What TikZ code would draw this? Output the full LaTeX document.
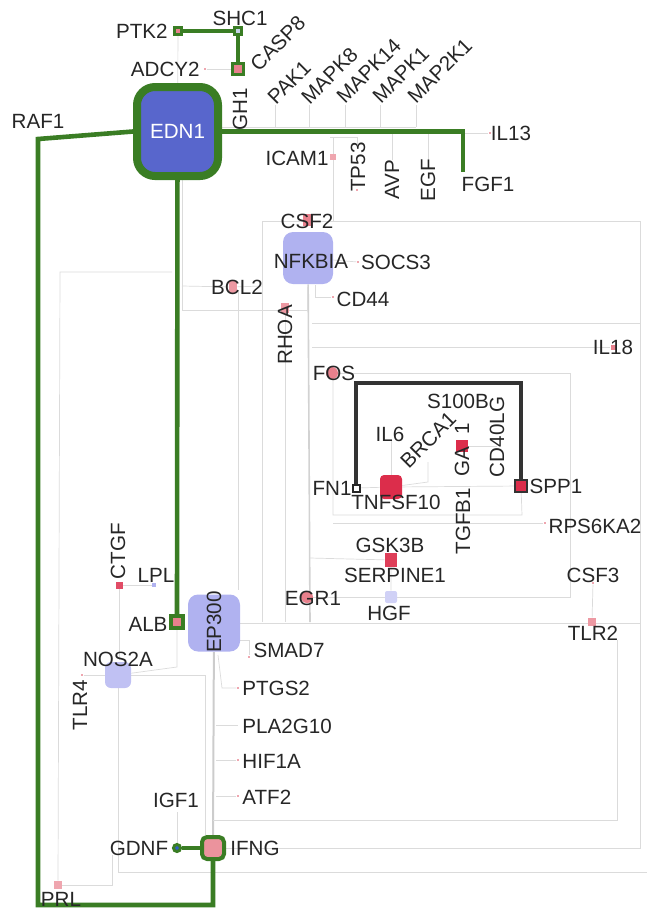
\documentclass[tikz,border=0pt]{standalone}
\usepackage{fontspec}
\setmainfont{Liberation Sans}
\usetikzlibrary{backgrounds}
\definecolor{edgegreen}{RGB}{58,125,36}
\definecolor{hubblue}{RGB}{88,102,204}
\definecolor{lav}{RGB}{176,178,240}
\definecolor{gpink}{RGB}{232,128,140}
\definecolor{gred}{RGB}{220,45,75}
\definecolor{gdnfblue}{RGB}{45,95,200}
\definecolor{shcfill}{RGB}{200,212,232}
\tikzset{
  lbl/.style={inner sep=0pt, text=black!85, font=\fontsize{10.3}{11}\selectfont},
  gene/.style={fill=gpink, inner sep=0pt, minimum size=#1},
  gene/.default=4pt,
  pin/.style={fill=gpink!70, inner sep=0pt, minimum size=1.3pt},
  hub/.style={fill=lav, inner sep=0pt, rounded corners=5pt},
  ring/.style={draw=edgegreen, line width=1.5pt},
  grn/.style={draw=edgegreen, line width=2.3pt},
  blk/.style={draw=black!80, line width=2pt},
  faint/.style={color=gray!28, line width=0.35pt},
}
\begin{document}
\begin{tikzpicture}[x=0.5pt,y=-0.5pt]
\useasboundingbox (0,0) rectangle (647,912);
\node[draw=edgegreen, line width=4pt, fill=hubblue, rounded corners=9pt, inner sep=0pt,
      minimum width=40.5pt, minimum height=44.5pt, text=white,
      font=\fontsize{10.3}{11}\selectfont] (edn1) at (177.5,131.5) {EDN1};
\node[hub, minimum width=25pt, minimum height=26pt] (nfkbia) at (308,258) {};
\node[hub, minimum width=26pt, minimum height=28.5pt] (ep300) at (214,623) {};
\node[hub, fill=lav!80, rounded corners=3pt, minimum size=13pt] (nos2a) at (118,675) {};
\node[hub, fill=lav!60, rounded corners=1pt, minimum size=6pt] (hgf) at (391,597) {};
\node[gene=3.5pt, ring] (ptk2) at (178,31) {};
\node[gene=3.5pt, ring, fill=shcfill] (shc1) at (238,31) {};
\node[gene=5.5pt, ring] (casp8) at (238,69) {};
\node[gene=6pt, ring, line width=2pt] (alb) at (177,622) {};
\node[gene=11pt, ring, line width=2pt, fill=gpink!85!white, rounded corners=2.5pt] (ifng) at (213,848) {};
\node[gene=3.5pt, ring, circle, fill=gdnfblue] (gdnf) at (177,848) {};
\node[gene=3.5pt, fill=white, draw=black!85, line width=1pt] (fn1) at (356,488) {};
\node[gene=6pt, fill=gred, draw=black!80, line width=1.2pt] (spp1) at (521,486) {};
\node[gene, fill=gred, rounded corners=2pt, minimum width=11pt, minimum height=12pt] (tnfsf10) at (391,487) {};
\node[gene=6pt, fill=gred] (gata) at (462,446) {};
\node[gene=6pt, fill=gred!80!gpink, minimum height=7pt] (serpine1) at (391,560) {};
\node[gene=6pt, circle] (fos) at (332,373) {};
\node[gene=6pt, circle] (egr1) at (307,597) {};
\node[gene=5pt, minimum height=6pt] (csf2) at (308,220) {};
\node[gene=4pt, fill=gpink!80, minimum height=6pt] (bcl2) at (233,287) {};
\node[gene=4pt, fill=gpink!80, minimum height=5pt] (rhoa) at (285,308) {};
\node[gene=3pt, fill=gpink!70] (icam1) at (333,157) {};
\node[gene=3.5pt, fill=gred!85] (ctgf) at (119,585) {};
\node[gene=2pt, fill=lav] (lpl) at (154,585) {};
\node[gene=4pt, fill=gpink!80] (tlr2) at (592,622) {};
\node[gene=4pt, fill=gpink!70] (prl) at (58,885) {};
\node[gene=2.5pt] (il18) at (613,347) {};
\foreach \n/\p in {socs3/{358,262}, cd44/{333,297}, smad7/{249,657}, ptgs2/{238,688},
  hif1a/{238,760}, atf2/{238,796}, tlr4/{82,675}, rps6ka2/{545,523}, tp53/{357,190},
  csf3/{593,583}, adcy2/{205,69}, il13/{490,133}}
  \node[pin] (\n) at (\p) {};
\begin{scope}[on background layer]
\begin{scope}[faint]
\draw (adcy2) -- (casp8);
\draw (ptk2) -- (edn1);
\draw (222,127) -- (416,127);
\foreach \x in {275,309,345,380,416} \draw (\x,105) -- (\x,127);
\draw (333,137) -- (icam1) -- (333,221);
\draw (330,137) -- (357,137) -- (357,145);
\draw (392,133) -- (392,160);
\draw (428,133) -- (428,160);
\draw (463,133) -- (il13);
\draw (262,622) -- (262,221) -- (640,221) -- (640,848) -- (ifng);
\draw (nfkbia) -- (socs3);
\draw[line width=0.8pt, gray!35] (nfkbia) -- (310,622);
\draw (315,285) -- (315,297) -- (cd44);
\draw (312,323) -- (640,323);
\draw (312,347) -- (il18);
\draw (fos) -- (570,373) -- (570,597) -- (egr1);
\draw (182,180) -- (182,310) -- (307,310) -- (307,287);
\draw (182,286) -- (bcl2) -- (262,286);
\draw (238,290) -- (238,590);
\draw (rhoa) -- (285,622);
\draw (ep300) -- (640,623);
\draw (333,373) -- (333,515) -- (522,515) -- (spp1);
\draw (fn1) -- (tnfsf10) -- (spp1);
\draw (391,440) -- (tnfsf10);
\draw (tnfsf10) -- (428,482) -- (428,462);
\draw (gata) -- (497,446);
\draw (333,523) -- (rps6ka2);
\draw (310,558) -- (serpine1) -- (hgf);
\draw (172,272) -- (60,272) -- (prl);
\draw (prl) -- (112,885) -- (112,855);
\draw (nos2a) -- (118,872) -- (647,872);
\draw (tlr4) -- (nos2a);
\draw (ctgf) -- (lpl);
\draw (ctgf) -- (119,660);
\draw (alb) -- (177,667) -- (nos2a);
\draw (nos2a) -- (205,675) -- (205,835);
\draw[line width=1pt, gray!40] (ep300) -- (ifng);
\draw (218,655) -- (222,688) -- (ptgs2);
\draw (216,725) -- (238,725);
\draw (216,760) -- (hif1a);
\draw (216,796) -- (atf2);
\draw (213,820) -- (617,820) -- (617,640);
\draw (177,812) -- (gdnf);
\draw (240,640) -- (249,640) -- (smad7);
\draw (csf3) -- (tlr2);
\end{scope}
\end{scope}
\draw[grn] (ptk2) -- (shc1) -- (casp8);
\draw[grn] (edn1.east) -- (463,131.5) -- (463,172);
\draw[grn] (edn1.west) -- (38,139) -- (38,905) -| (ifng);
\draw[grn] (edn1) -- (alb);
\draw[grn] (gdnf) -- (ifng);
\draw[blk] (fn1) -- (fn1 |- 0,383) -| (spp1);
\node[lbl, anchor=east] (ptk2l) at (168,31) {PTK2};
\node[lbl] (shc1l) at (240,18) {SHC1};
\node[lbl, anchor=east] (adcy2l) at (200,69) {ADCY2};
\node[lbl, rotate=45, anchor=south west] (casp8l) at (259,73) {CASP8};
\node[lbl, rotate=90] (gh1l) at (240,109) {GH1};
\node[lbl, rotate=45, anchor=south west] (pak1l) at (276,106) {PAK1};
\node[lbl, rotate=45, anchor=south west] (mapk8l) at (310,106) {MAPK8};
\node[lbl, rotate=45, anchor=south west] (mapk14l) at (345,105) {MAPK14};
\node[lbl, rotate=45, anchor=south west] (mapk1l) at (381,105) {MAPK1};
\node[lbl, rotate=45, anchor=south west] (map2k1l) at (416,105) {MAP2K1};
\node[lbl] (raf1l) at (38,121) {RAF1};
\node[lbl] (il13l) at (511,133) {IL13};
\node[lbl] (fgf1l) at (488,184) {FGF1};
\node[lbl] (icam1l) at (297,158) {ICAM1};
\node[lbl, rotate=90] (tp53l) at (358,167) {TP53};
\node[lbl, rotate=90] (avpl) at (392,180) {AVP};
\node[lbl, rotate=90] (egfl) at (428,180) {EGF};
\node[lbl] (csf2l) at (307,221) {CSF2};
\node[lbl] (nfkbial) at (311,261) {NFKBIA};
\node[lbl] (socs3l) at (396,262) {SOCS3};
\node[lbl] (cd44l) at (363,299) {CD44};
\node[lbl] (bcl2l) at (237,287) {BCL2};
\node[lbl, rotate=90] (rhoal) at (285,335) {RHOA};
\node[lbl] (il18l) at (613,347) {IL18};
\node[lbl] (fosl) at (334,373) {FOS};
\node[lbl] (s100bl) at (458,401) {S100B};
\node[lbl] (il6l) at (390,434) {IL6};
\node[lbl, rotate=45, anchor=south west] (brca1l) at (409,470) {BRCA1};
\node[lbl, rotate=90] (gatal) at (462,450) {GA\phantom{T}1};
\node[lbl, rotate=90] (cd40lgl) at (497,437) {CD40LG};
\node[lbl, rotate=90] (tgfb1l) at (463,521) {TGFB1};
\node[lbl] (fn1l) at (332,488) {FN1};
\node[lbl] (tnfsf10l) at (396,502) {TNFSF10};
\node[lbl] (spp1l) at (556,486) {SPP1};
\node[lbl] (rps6ka2l) at (595,526) {RPS6KA2};
\node[lbl] (gsk3bl) at (390,545) {GSK3B};
\node[lbl] (serpine1l) at (395,575) {SERPINE1};
\node[lbl] (csf3l) at (593,575) {CSF3};
\node[lbl] (egr1l) at (313,598) {EGR1};
\node[lbl] (hgfl) at (389,613) {HGF};
\node[lbl] (tlr2l) at (593,633) {TLR2};
\node[lbl, rotate=90] (ctgfl) at (118,551) {CTGF};
\node[lbl] (lpll) at (156,575) {LPL};
\node[lbl] (albl) at (148,624) {ALB};
\node[lbl, rotate=90] (ep300l) at (214,622) {EP300};
\node[lbl] (smad7l) at (289,650) {SMAD7};
\node[lbl] (nos2al) at (118,659) {NOS2A};
\node[lbl, rotate=90] (tlr4l) at (80,705) {TLR4};
\node[lbl, anchor=west] (ptgs2l) at (242,688) {PTGS2};
\node[lbl, anchor=west] (pla2g10l) at (242,726) {PLA2G10};
\node[lbl, anchor=west] (hif1al) at (242,761) {HIF1A};
\node[lbl, anchor=west] (atf2l) at (242,797) {ATF2};
\node[lbl] (igf1l) at (176,800) {IGF1};
\node[lbl] (gdnfl) at (139,848) {GDNF};
\node[lbl, anchor=west] (ifngl) at (230,848) {IFNG};
\node[lbl] (prll) at (61,899) {PRL};
\end{tikzpicture}
\end{document}
